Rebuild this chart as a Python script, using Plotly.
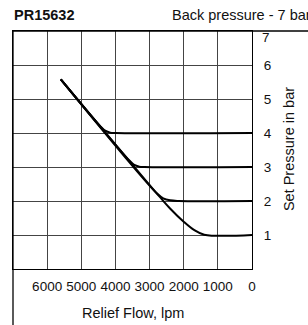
import plotly.graph_objects as go

# Relief flow (lpm) vs set pressure (bar), one curve per set pressure
flow_4 = [5600, 4450, 4300, 4150, 4000, 0]
pres_4 = [5.58, 4.21, 4.07, 4.01, 4.0, 4.0]

flow_3 = [5600, 3600, 3450, 3300, 3150, 0]
pres_3 = [5.58, 3.20, 3.06, 3.01, 3.0, 3.0]

flow_2 = [5600, 2780, 2600, 2400, 2150, 0]
pres_2 = [5.58, 2.22, 2.08, 2.02, 2.0, 2.0]

flow_1 = [5600, 2700, 2400, 2000, 1700, 1400, 0]
pres_1 = [5.58, 2.12, 1.78, 1.39, 1.15, 1.01, 1.0]

x_ticks = [6000, 5000, 4000, 3000, 2000, 1000, 0]
x_tick_labels = ["6000", "5000", "4000", "3000", "2000", "1000", "0"]
y_ticks = [1, 2, 3, 4, 5, 6]
y_tick_labels = ["1", "2", "3", "4", "5", "6"]
y_top_label = "7"

title_left = "PR15632"
title_right = "Back pressure - 7 bar"
x_title = "Relief Flow, lpm"
y_title = "Set Pressure in bar"

FONT = "Liberation Sans, Arial, sans-serif"
INK = "#111111"

fig = go.Figure()
for fx, py in [(flow_4, pres_4), (flow_3, pres_3), (flow_2, pres_2), (flow_1, pres_1)]:
    fig.add_trace(go.Scatter(
        x=fx, y=py, mode="lines",
        line=dict(color="black", width=2, shape="spline", smoothing=1),
        showlegend=False, hoverinfo="skip"))

fig.update_layout(
    width=308, height=325,
    margin=dict(l=13, r=56, t=31, b=56, pad=0),
    paper_bgcolor="white", plot_bgcolor="white",
    font=dict(family=FONT, color=INK, size=14),
    xaxis=dict(
        range=[7000, 0], tickvals=x_ticks, ticktext=x_tick_labels,
        showgrid=True, gridcolor="#444444", gridwidth=1,
        showline=True, mirror=True, linecolor="black", linewidth=1.3,
        ticks="", zeroline=False, ticklabelstandoff=5,
        tickfont=dict(size=13.5, family=FONT, color=INK),
        fixedrange=True),
    yaxis=dict(
        range=[0, 7], side="right", tickvals=y_ticks, ticktext=y_tick_labels,
        showgrid=True, gridcolor="#444444", gridwidth=1,
        showline=True, mirror=True, linecolor="black", linewidth=1.3,
        ticks="", zeroline=False, ticklabelstandoff=8,
        tickfont=dict(size=13.5, family=FONT, color=INK),
        fixedrange=True),
    annotations=[
        dict(text=y_top_label, xref="paper", yref="paper", x=1.033, y=0.972,
             xanchor="left", yanchor="middle", showarrow=False,
             font=dict(size=13.5, family=FONT, color=INK)),
        dict(text=x_title, xref="paper", yref="paper", x=0.5, y=-0.185,
             xanchor="center", yanchor="middle", showarrow=False,
             font=dict(size=14.5, family=FONT, color=INK)),
        dict(text=y_title, xref="paper", yref="paper", x=1.155, y=0.504,
             xanchor="center", yanchor="middle", showarrow=False, textangle=-90,
             font=dict(size=14.5, family=FONT, color=INK)),
        dict(text="<b>" + title_left + "</b>", xref="paper", yref="paper",
             x=-0.004, y=1.067, xanchor="left", yanchor="middle", showarrow=False,
             font=dict(size=14.5, family=FONT, color=INK)),
        dict(text=title_right, xref="paper", yref="paper",
             x=0.657, y=1.067, xanchor="left", yanchor="middle", showarrow=False,
             font=dict(size=14.5, family=FONT, color=INK)),
    ],
    shapes=[
        dict(type="line", xref="paper", yref="paper", x0=0, x1=1.24, y0=1, y1=1,
             line=dict(color="black", width=1.3), layer="above"),
        dict(type="line", xref="paper", yref="paper", x0=0, x1=0, y0=1, y1=-0.24,
             line=dict(color="black", width=1.3), layer="above"),
    ],
)

fig.write_html(
    "out.html",
    config={"displayModeBar": False},
    post_script="document.body.style.margin='0px';document.body.style.overflow='hidden';",
)
